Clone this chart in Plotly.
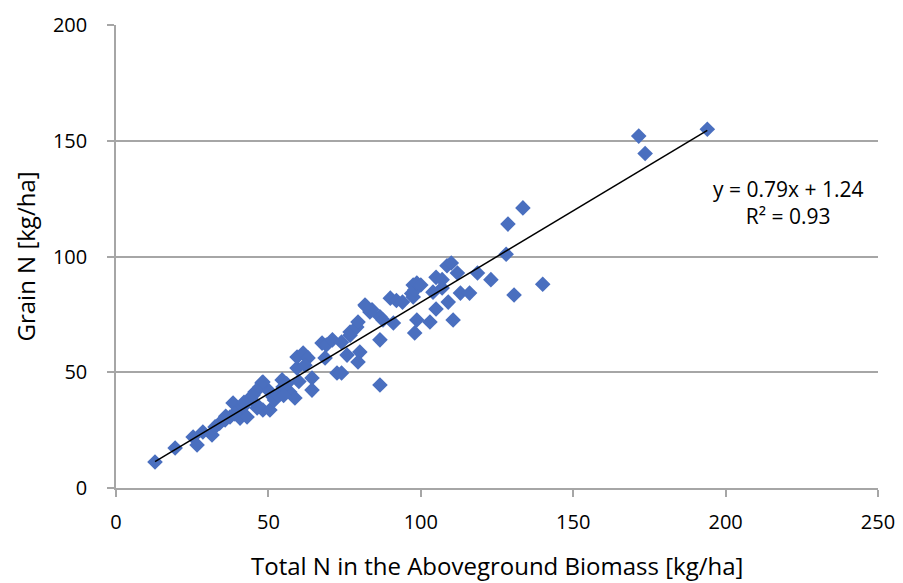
import plotly.graph_objects as go

total_n = [12.8, 19.4, 25.3, 26.6, 28.5, 31.5, 32.5, 34.0, 35.8, 37.4, 38.4, 40.0, 41.7, 40.7, 43.0,
           44.0, 45.6, 45.6, 47.9, 48.2, 49.9, 46.3, 50.5, 45.0, 51.5, 47.2, 48.2, 54.8, 54.5, 57.0,
           58.7, 59.4, 59.4, 61.4, 63.0, 64.3, 64.3, 67.6, 69.0, 68.6, 71.0, 72.5, 74.0, 74.0, 75.8,
           76.8, 76.8, 79.0, 79.4, 80.0, 79.4, 81.7, 83.3, 86.6, 87.6, 86.6, 86.6, 90.0, 91.0, 92.0,
           94.0, 97.0, 97.5, 97.5, 98.0, 98.7, 100.0, 98.7, 98.0, 103.0, 104.0, 105.0, 105.0, 107.0,
           107.0, 108.6, 110.0, 109.0, 110.6, 112.0, 113.0, 116.0, 118.6, 123.0, 128.0, 128.6, 133.5,
           130.6, 140.0, 171.5, 173.6, 194.0,
           52.0, 53.0, 56.0, 42.0, 39.0, 36.0, 55.0, 60.0, 62.0, 84.0, 82.0]
grain_n = [11.2, 17.3, 22.0, 18.6, 24.2, 22.9, 26.4, 28.0, 29.4, 30.7, 36.7, 33.7, 35.0, 30.2, 30.7,
           38.9, 36.7, 41.5, 45.4, 33.7, 42.3, 34.6, 33.7, 40.2, 39.3, 43.6, 45.8, 43.6, 46.7, 41.5,
           38.9, 51.8, 56.6, 58.3, 56.2, 47.5, 42.3, 62.6, 61.8, 56.2, 64.0, 49.7, 49.7, 63.0, 57.4,
           67.4, 66.0, 69.5, 71.7, 58.7, 54.4, 79.0, 76.0, 74.0, 72.6, 64.0, 44.5, 82.0, 71.3, 81.0,
           80.3, 84.0, 87.7, 82.5, 85.5, 88.5, 87.7, 72.6, 67.0, 71.7, 84.6, 91.0, 77.3, 90.0,
           86.4, 96.0, 97.2, 80.3, 72.6, 92.9, 84.2, 84.2, 92.9, 90.0, 101.0, 114.0, 121.0,
           83.4, 88.0, 152.0, 144.5, 155.0,
           38.0, 40.0, 45.0, 37.0, 32.0, 31.0, 40.0, 46.0, 53.0, 77.0, 78.5]

slope = 0.79
intercept = 1.24
r_squared = 0.93

x_ticks = [0, 50, 100, 150, 200, 250]
y_ticks = [0, 50, 100, 150, 200]

x_title = "Total N in the Aboveground Biomass [kg/ha]"
y_title = "Grain N [kg/ha]"

font_family = "Open Sans, Noto Sans, sans-serif"

fig = go.Figure()
fig.add_trace(go.Scatter(
    x=total_n, y=grain_n, mode="markers",
    marker=dict(symbol="diamond", size=12, color="#4a6fbf", line=dict(width=0)),
    showlegend=False,
))
x_line = [min(total_n), max(total_n)]
y_line = [slope * v + intercept for v in x_line]
fig.add_trace(go.Scatter(
    x=x_line, y=y_line, mode="lines",
    line=dict(color="black", width=1.5), showlegend=False,
))

fig.add_annotation(
    x=220.5, y=123.5, xref="x", yref="y",
    text=f"y = {slope:.2f}x + {intercept:.2f}<br>R² = {r_squared:.2f}",
    showarrow=False, align="center",
    font=dict(family=font_family, size=21, color="black"),
)
fig.add_annotation(
    x=0.5, y=0, xref="paper", yref="paper", yshift=-77,
    xanchor="center", yanchor="middle", text=x_title, showarrow=False,
    font=dict(family=font_family, size=24, color="black"),
)
fig.add_annotation(
    x=0, y=0.5, xref="paper", yref="paper", xshift=-91,
    xanchor="center", yanchor="middle", textangle=-90, text=y_title, showarrow=False,
    font=dict(family=font_family, size=24, color="black"),
)

fig.update_layout(
    width=903, height=583,
    margin=dict(l=116, r=25, t=25, b=95),
    paper_bgcolor="white", plot_bgcolor="white",
    font=dict(family=font_family, size=20, color="black"),
    xaxis=dict(
        range=[0, 250], tickvals=x_ticks, showgrid=False, zeroline=False,
        showline=True, linecolor="#a6a6a6", linewidth=1.5,
        ticks="outside", ticklen=7, tickcolor="#a6a6a6", tickwidth=1.5,
        tickfont=dict(size=20), ticklabelstandoff=8, automargin=False,
    ),
    yaxis=dict(
        range=[0, 200], tickvals=y_ticks, showgrid=True, gridcolor="#a6a6a6", gridwidth=1.5,
        zeroline=False, showline=True, linecolor="#a6a6a6", linewidth=1.5,
        ticks="outside", ticklen=7, tickcolor="#a6a6a6", tickwidth=1.5,
        tickfont=dict(size=20), ticklabelstandoff=16, automargin=False,
    ),
)

fig.write_html("out.html")
